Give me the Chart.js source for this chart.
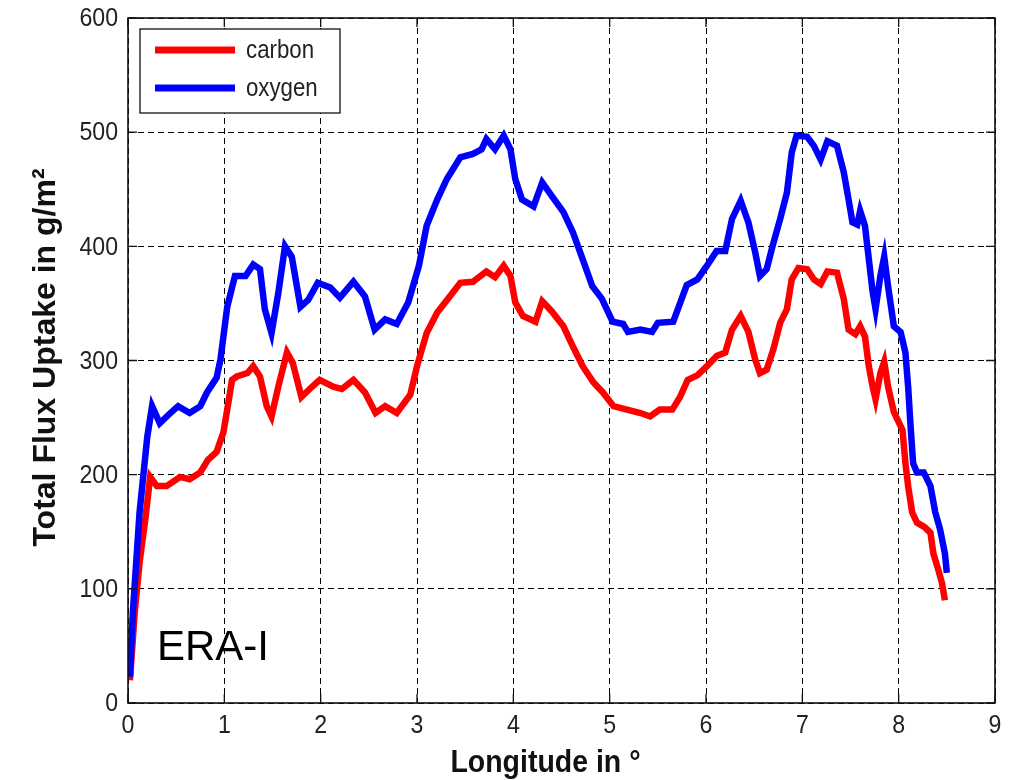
<!DOCTYPE html>
<html>
<head>
<meta charset="utf-8">
<script src="https://cdn.jsdelivr.net/npm/chart.js@4/dist/chart.umd.min.js"></script>
<style>
html,body{margin:0;padding:0;background:#fff;}
#wrap{width:1022px;height:780px;}
</style>
</head>
<body>
<div id="wrap"><canvas id="c" width="1022" height="780"></canvas></div>
<script>
// ---- data ----
const oxygenLon = [0.02,0.05,0.12,0.20,0.25,0.33,0.44,0.52,0.64,0.75,0.82,0.92,0.96,1.03,1.11,1.22,1.30,1.37,1.42,1.49,1.56,1.63,1.70,1.79,1.87,1.97,2.10,2.20,2.34,2.46,2.56,2.67,2.79,2.91,3.02,3.10,3.21,3.31,3.45,3.58,3.67,3.72,3.81,3.90,3.97,4.02,4.09,4.21,4.30,4.40,4.52,4.62,4.71,4.82,4.92,5.03,5.14,5.19,5.32,5.44,5.50,5.66,5.73,5.80,5.91,6.01,6.11,6.20,6.27,6.36,6.44,6.51,6.56,6.63,6.69,6.77,6.84,6.89,6.94,7.05,7.12,7.19,7.26,7.36,7.43,7.48,7.52,7.57,7.60,7.65,7.69,7.73,7.76,7.81,7.85,7.89,7.95,8.02,8.07,8.10,8.12,8.15,8.19,8.26,8.33,8.38,8.43,8.48,8.50];
const oxygenFlux = [23,79,167,233,260,245,254,260,254,260,272,285,301,347,374,374,384,380,345,324,359,400,391,347,353,368,364,355,369,356,327,336,332,351,383,418,441,459,478,481,485,494,485,497,485,459,441,435,456,444,430,412,391,365,354,334,332,325,327,325,333,334,350,366,371,383,396,396,424,440,421,395,374,380,400,424,447,482,497,496,488,476,492,488,465,441,421,419,431,418,389,360,345,374,391,365,330,325,307,275,247,210,202,202,190,167,152,131,114];

const carbonLon = [0.02,0.07,0.12,0.18,0.23,0.30,0.40,0.54,0.64,0.75,0.83,0.92,0.99,1.03,1.08,1.13,1.24,1.30,1.37,1.44,1.49,1.56,1.65,1.71,1.80,1.91,1.99,2.13,2.22,2.34,2.46,2.57,2.67,2.79,2.93,3.00,3.10,3.21,3.34,3.45,3.58,3.72,3.81,3.90,3.97,4.02,4.10,4.23,4.30,4.40,4.52,4.62,4.72,4.83,4.93,5.04,5.18,5.32,5.42,5.52,5.65,5.73,5.81,5.91,6.01,6.11,6.20,6.27,6.36,6.44,6.51,6.56,6.63,6.70,6.77,6.84,6.89,6.96,7.05,7.12,7.19,7.26,7.36,7.43,7.48,7.55,7.60,7.65,7.69,7.73,7.76,7.81,7.85,7.89,7.95,8.04,8.07,8.10,8.14,8.19,8.27,8.33,8.36,8.41,8.45,8.48];
const carbonFlux = [20,79,123,161,198,190,190,198,196,202,213,220,237,257,283,286,289,295,286,260,251,277,307,298,268,277,283,277,275,283,272,254,260,254,270,295,324,342,356,368,369,378,373,383,374,351,339,334,352,343,330,312,295,281,272,260,257,254,251,257,257,268,283,287,295,304,307,327,339,325,301,289,292,310,333,345,371,381,380,371,367,378,377,354,327,323,330,321,295,277,266,289,299,277,255,239,210,189,167,158,154,149,131,117,105,90];

const xTicks = [0,1,2,3,4,5,6,7,8,9];
const yTicks = [0,100,200,300,400,500,600];
const seriesNames = ['carbon','oxygen'];
const annotationText = 'ERA-I';
const xTitle = 'Longitude in \u00B0';
const yTitle = 'Total Flux Uptake in g/m\u00B2';

const toPts = (xs, ys) => xs.map((x,i)=>({x:x, y:ys[i]}));
const FONT = "'Liberation Sans', Arial, sans-serif";
const SQX = 0.89; // horizontal squeeze of the reference's text

function squeezedText(ctx, txt, x, y, font, align, baseline, color){
  ctx.save();
  ctx.font = font;
  ctx.fillStyle = color;
  ctx.textAlign = align;
  ctx.textBaseline = baseline;
  ctx.translate(x, y);
  ctx.scale(SQX, 1);
  ctx.fillText(txt, 0, 0);
  ctx.restore();
}

const framePlugin = {
  id:'frame',
  afterDraw(chart){
    const {ctx, chartArea:a, scales:{x, y}} = chart;
    ctx.save();
    ctx.strokeStyle = '#111';
    ctx.lineWidth = 1.6;
    ctx.setLineDash([]);
    ctx.strokeRect(a.left, a.top, a.right-a.left, a.bottom-a.top);
    const tl = 9;
    ctx.lineWidth = 1.3;
    ctx.beginPath();
    xTicks.forEach(v=>{
      const px = x.getPixelForValue(v);
      ctx.moveTo(px, a.bottom); ctx.lineTo(px, a.bottom-tl);
      ctx.moveTo(px, a.top); ctx.lineTo(px, a.top+tl);
    });
    yTicks.forEach(v=>{
      const py = y.getPixelForValue(v);
      ctx.moveTo(a.left, py); ctx.lineTo(a.left+tl, py);
      ctx.moveTo(a.right, py); ctx.lineTo(a.right-tl, py);
    });
    ctx.stroke();

    // tick labels
    xTicks.forEach(v=>{
      squeezedText(ctx, String(v), x.getPixelForValue(v), a.bottom+23, '26px '+FONT, 'center', 'middle', '#222');
    });
    yTicks.forEach(v=>{
      squeezedText(ctx, String(v), a.left-10, y.getPixelForValue(v)+1, '26px '+FONT, 'right', 'middle', '#222');
    });
    // axis titles
    squeezedText(ctx, xTitle, (a.left+a.right)/2 - 16, a.bottom+69, 'bold 32px '+FONT, 'center', 'alphabetic', '#111');
    ctx.save();
    ctx.translate(a.left-73, (a.top+a.bottom)/2 - 3);
    ctx.rotate(-Math.PI/2);
    ctx.font = 'bold 32px '+FONT;
    ctx.fillStyle = '#111';
    ctx.textAlign = 'center';
    ctx.textBaseline = 'alphabetic';
    ctx.fillText(yTitle, 0, 0);
    ctx.restore();

    // legend box inside the axes
    const lx = a.left+12, ly = a.top+11, lw = 200, lh = 84;
    ctx.fillStyle = '#fff';
    ctx.fillRect(lx, ly, lw, lh);
    ctx.lineWidth = 1.3;
    ctx.strokeStyle = '#111';
    ctx.strokeRect(lx, ly, lw, lh);
    chart.data.datasets.forEach((ds,i)=>{
      const cy = ly + 21 + i*38;
      ctx.strokeStyle = ds.borderColor;
      ctx.lineWidth = 7;
      ctx.lineCap = 'butt';
      ctx.beginPath();
      ctx.moveTo(lx+15, cy); ctx.lineTo(lx+95, cy);
      ctx.stroke();
      squeezedText(ctx, ds.label, lx+106, cy+1, '25px '+FONT, 'left', 'middle', '#222');
    });

    // annotation
    ctx.fillStyle = '#000';
    ctx.font = '42px ' + FONT;
    ctx.textBaseline = 'alphabetic';
    ctx.textAlign = 'left';
    ctx.fillText(annotationText, a.left+29, a.bottom-43);
    ctx.restore();
  }
};

new Chart(document.getElementById('c'), {
  type:'line',
  data:{
    datasets:[
      {label:seriesNames[0], data:toPts(carbonLon, carbonFlux), borderColor:'#ff0000', borderWidth:6.5, pointRadius:0, tension:0, fill:false, order:2},
      {label:seriesNames[1], data:toPts(oxygenLon, oxygenFlux), borderColor:'#0000ff', borderWidth:6.5, pointRadius:0, tension:0, fill:false, order:1}
    ]
  },
  options:{
    responsive:false,
    animation:false,
    devicePixelRatio:1,
    layout:{padding:{top:18, right:27, left:0, bottom:0}},
    plugins:{legend:{display:false}, tooltip:{enabled:false}},
    scales:{
      x:{
        type:'linear', min:0, max:9,
        afterBuildTicks(s){ s.ticks = xTicks.map(v=>({value:v})); },
        afterFit(s){ s.height = 77; },
        grid:{color:'#000', lineWidth:1, drawTicks:false, tickLength:0},
        border:{display:false, dash:[6,4]},
        ticks:{display:false},
        title:{display:false, text:xTitle}
      },
      y:{
        type:'linear', min:0, max:600,
        afterBuildTicks(s){ s.ticks = yTicks.map(v=>({value:v})); },
        afterFit(s){ s.width = 128; },
        grid:{color:'#000', lineWidth:1, drawTicks:false, tickLength:0},
        border:{display:false, dash:[6,4]},
        ticks:{display:false},
        title:{display:false, text:yTitle}
      }
    }
  },
  plugins:[framePlugin]
});
</script>
</body>
</html>
